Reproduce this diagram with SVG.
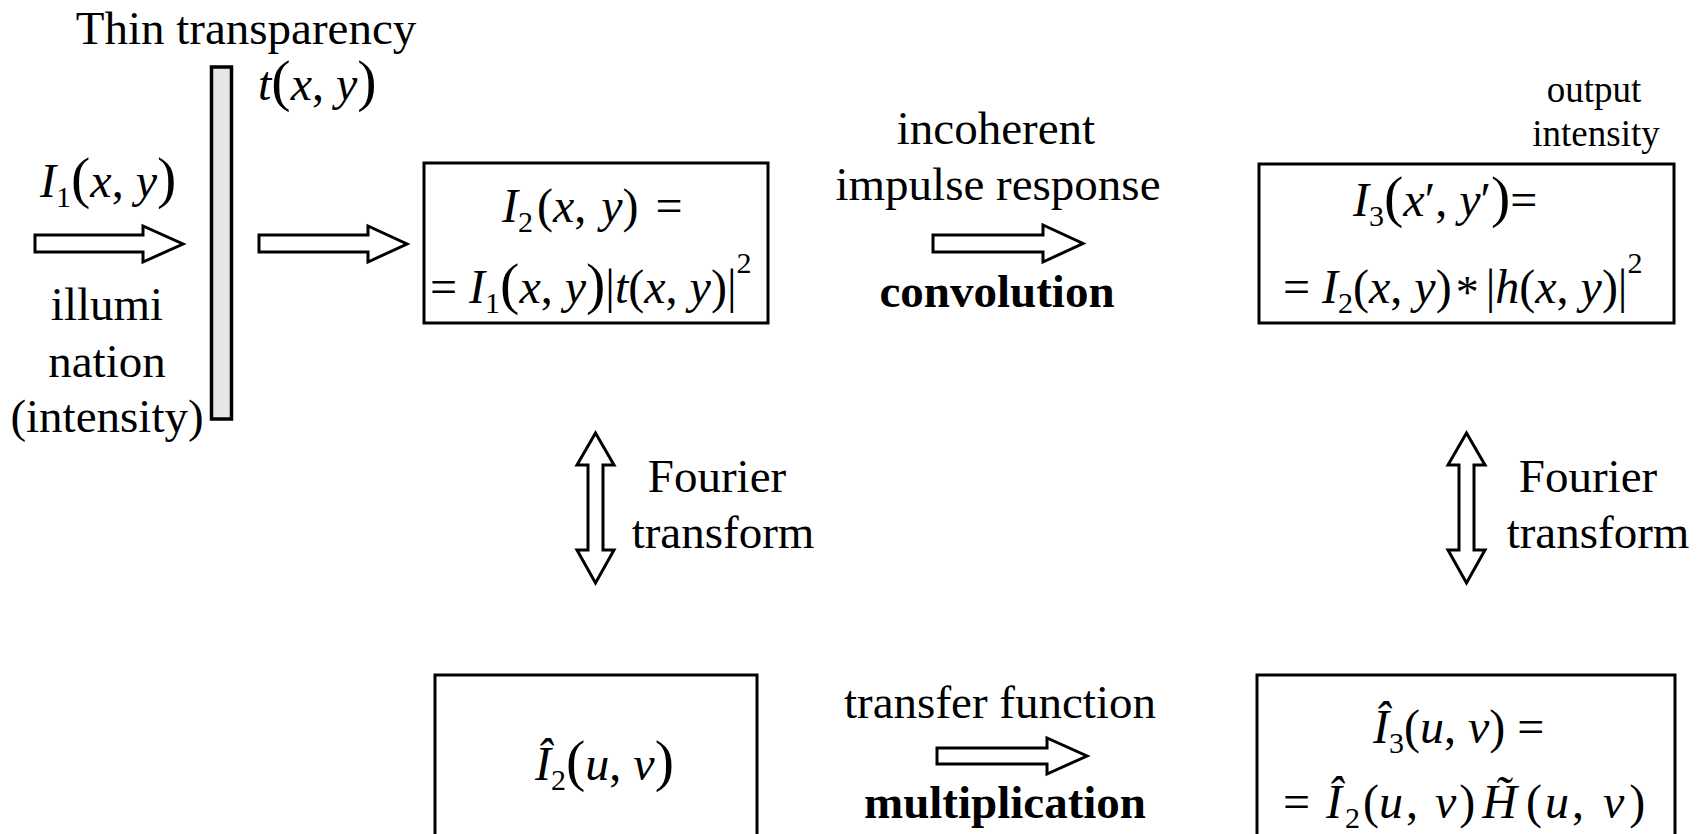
<svg xmlns="http://www.w3.org/2000/svg" width="1704" height="834" viewBox="0 0 1704 834">
<style>
.t{font-family:"Liberation Serif","Times New Roman",serif;font-size:47px;fill:#000}
.s{font-family:"Liberation Serif","Times New Roman",serif;font-size:37px;fill:#000}
.m{font-family:"Liberation Serif","Times New Roman",serif;font-size:48px;fill:#000}
.i{font-style:italic}
.b{font-weight:bold}
.sub{font-size:30px;font-style:normal}
.bp{font-size:58px}
.box{fill:#fff;stroke:#000;stroke-width:3}
.arr{fill:#fff;stroke:#000;stroke-width:3;stroke-linejoin:miter}
</style>
<rect width="1704" height="834" fill="#fff"/>

<g id="transparency">
<rect x="211.5" y="67" width="20" height="352" fill="#e6e6e6" stroke="#000" stroke-width="3.5"/>
<text class="t" x="246" y="44" text-anchor="middle">Thin transparency</text>
<text class="m" x="258" y="100"><tspan class="i">t</tspan><tspan class="bp">(</tspan><tspan class="i">x</tspan>, <tspan class="i">y</tspan><tspan class="bp">)</tspan></text>
</g>

<g id="input-label">
<text class="m" x="40" y="197"><tspan class="i">I</tspan><tspan class="sub" dy="10">1</tspan><tspan class="bp" dy="-10">(</tspan><tspan class="i">x</tspan>, <tspan class="i">y</tspan><tspan class="bp">)</tspan></text>
<text class="t" text-anchor="middle"><tspan x="107" y="320">illumi</tspan><tspan x="107" y="377">nation</tspan><tspan x="107" y="432">(intensity)</tspan></text>
</g>

<g id="box-I2">
<rect class="box" x="424" y="163" width="344" height="160"/>
<text class="m" x="502" y="222"><tspan class="i">I</tspan><tspan class="sub" dy="10">2</tspan><tspan dy="-10" dx="4">(</tspan><tspan class="i">x</tspan>, <tspan class="i" dx="3">y</tspan>)<tspan dx="5"> =</tspan></text>
<text class="m" x="430" y="303">= <tspan class="i">I</tspan><tspan class="sub" dy="10">1</tspan><tspan class="bp" dy="-10">(</tspan><tspan class="i">x</tspan>, <tspan class="i">y</tspan><tspan class="bp">)</tspan>|<tspan class="i">t</tspan>(<tspan class="i">x</tspan>, <tspan class="i">y</tspan>)|<tspan class="sub" dy="-30">2</tspan></text>
</g>

<g id="convolution-label">
<text class="t" text-anchor="middle"><tspan x="996" y="144">incoherent</tspan><tspan x="998" y="200">impulse response</tspan></text>
<text class="t b" x="997" y="307" text-anchor="middle">convolution</text>
</g>

<g id="output-label">
<text class="s" text-anchor="middle"><tspan x="1594" y="102">output</tspan><tspan x="1596" y="146">intensity</tspan></text>
</g>

<g id="box-I3">
<rect class="box" x="1259" y="164" width="415" height="159"/>
<text class="m" x="1353" y="216"><tspan class="i">I</tspan><tspan class="sub" dy="10">3</tspan><tspan class="bp" dy="-10">(</tspan><tspan class="i">x</tspan>′, <tspan class="i">y</tspan>′<tspan class="bp">)</tspan>=</text>
<text class="m" x="1283" y="303">= <tspan class="i">I</tspan><tspan class="sub" dy="10">2</tspan><tspan dy="-10">(</tspan><tspan class="i">x</tspan>, <tspan class="i">y</tspan>)<tspan dx="4" dy="5" font-size="46">*</tspan><tspan dx="7" dy="-5">|</tspan><tspan class="i">h</tspan>(<tspan class="i">x</tspan>, <tspan class="i">y</tspan>)|<tspan class="sub" dy="-30">2</tspan></text>
</g>

<g id="fourier-left">
<text class="t" text-anchor="middle"><tspan x="717" y="492">Fourier</tspan><tspan x="723" y="548">transform</tspan></text>
</g>
<g id="fourier-right">
<text class="t" text-anchor="middle"><tspan x="1588" y="492">Fourier</tspan><tspan x="1598" y="548">transform</tspan></text>
</g>

<g id="box-I2hat">
<rect class="box" x="435" y="675" width="322" height="180"/>
<text class="m" x="535" y="780"><tspan class="i">Î</tspan><tspan class="sub" dy="10">2</tspan><tspan class="bp" dy="-10">(</tspan><tspan class="i">u</tspan>, <tspan class="i">v</tspan><tspan class="bp">)</tspan></text>
</g>

<g id="multiplication-label">
<text class="t" x="1000" y="718" text-anchor="middle">transfer function</text>
<text class="t b" x="1005" y="818" text-anchor="middle">multiplication</text>
</g>

<g id="box-I3hat">
<rect class="box" x="1257" y="675" width="418" height="180"/>
<text class="m" x="1373" y="743"><tspan class="i">Î</tspan><tspan class="sub" dy="10">3</tspan><tspan dy="-10">(</tspan><tspan class="i">u</tspan>, <tspan class="i">v</tspan>) =</text>
<text class="m" x="1283" y="818">= <tspan class="i" dx="4">Î</tspan><tspan class="sub" dx="3" dy="10">2</tspan><tspan dx="3" dy="-10">(</tspan><tspan class="i">u</tspan><tspan dx="3">,</tspan> <tspan class="i" dx="5">v</tspan><tspan dx="3">)</tspan><tspan class="i" dx="7">H̃</tspan><tspan dx="9">(</tspan><tspan class="i" dx="3">u</tspan><tspan dx="3">,</tspan> <tspan class="i" dx="7">v</tspan><tspan dx="5">)</tspan></text>
</g>

<g id="connectors">
<polygon class="arr" points="35,235 143,235 143,226 183,244 143,262 143,252 35,252"/>
<polygon class="arr" points="259,235 368,235 368,226 407,244 368,262 368,252 259,252"/>
<polygon class="arr" points="933,235 1043,235 1043,225 1083,243.5 1043,262 1043,252 933,252"/>
<polygon class="arr" points="937,748 1047,748 1047,738 1087,756 1047,774 1047,764 937,764"/>
<polygon class="arr" points="595.5,433 614,465 603,465 603,550 614,550 595.5,583 577,550 588,550 588,465 577,465"/>
<polygon class="arr" points="1466.5,433 1485,465 1474,465 1474,550 1485,550 1466.5,583 1448,550 1459,550 1459,465 1448,465"/>
</g>
</svg>
